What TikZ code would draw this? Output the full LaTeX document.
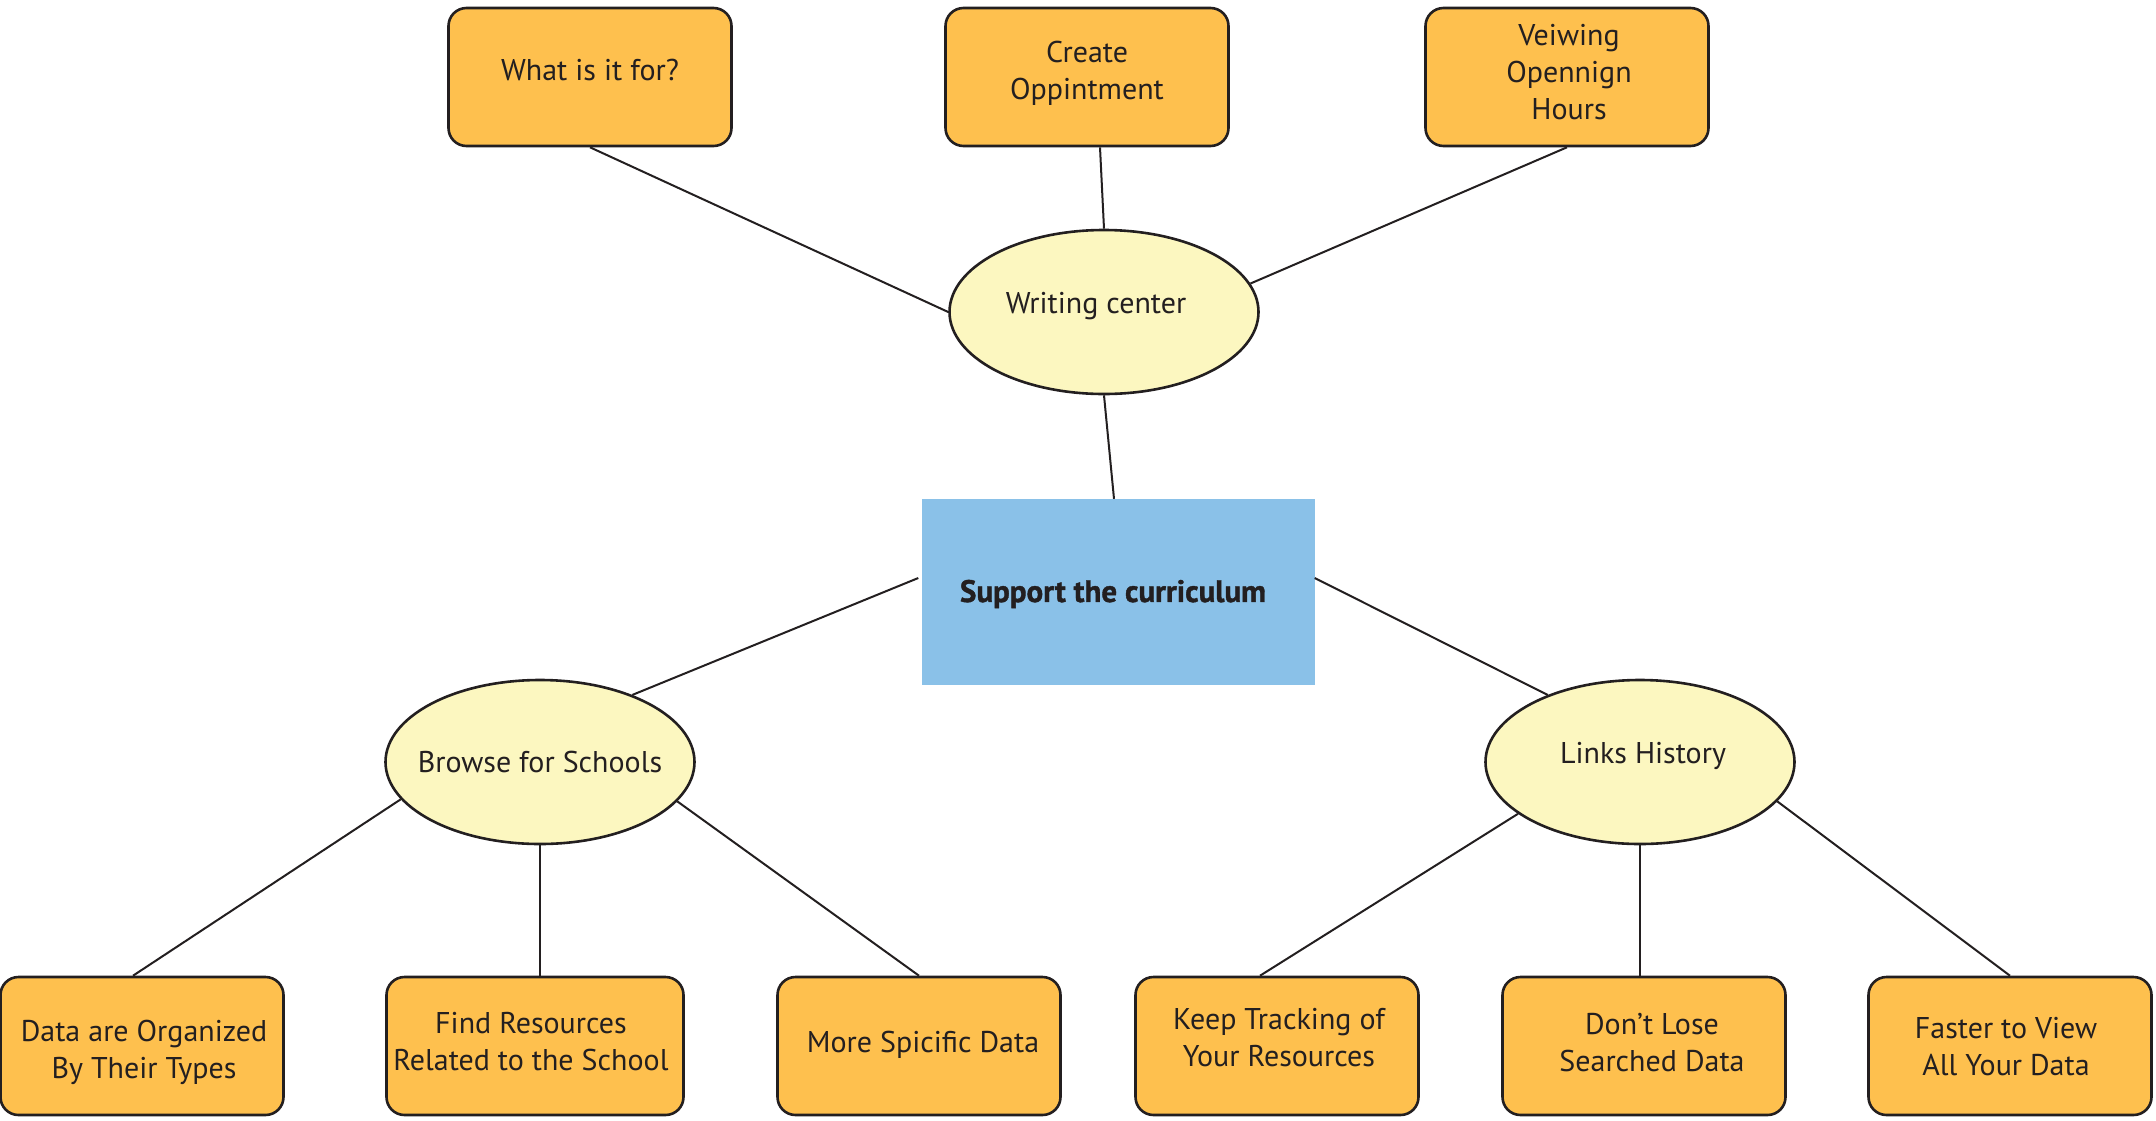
\documentclass[tikz,border=0pt]{standalone}
\usepackage{fontspec}
\setmainfont{PT Sans}
\newfontfamily\heavyfont[FakeBold=1.2]{PT Sans Bold}
\usetikzlibrary{shapes.geometric,calc}
\definecolor{ink}{HTML}{231F20}
\definecolor{boxfill}{HTML}{FEC04E}
\definecolor{bubblefill}{HTML}{FCF7C0}
\definecolor{corefill}{HTML}{8AC1E8}
\tikzset{
  leafbox/.style={draw=ink, line width=2.6pt, fill=boxfill, rounded corners=18pt,
    minimum width=283pt, minimum height=138pt, inner sep=0pt},
  bubble/.style={ellipse, draw=ink, line width=2.6pt, fill=bubblefill,
    minimum width=309pt, minimum height=164pt, inner sep=0pt},
  corebox/.style={rectangle, fill=corefill, minimum width=393pt, minimum height=186pt,
    inner sep=0pt},
  tag/.style={inner sep=0pt, align=center, text=ink, font=\fontsize{30}{37}\selectfont},
  coretag/.style={inner sep=0pt, text=ink, font=\fontsize{31}{37}\heavyfont},
  link/.style={draw=ink, line width=2pt}
}
\begin{document}
\begin{tikzpicture}[x=1pt, y=-1pt]
\useasboundingbox (0,0) rectangle (2156,1120);

% top row
\node[leafbox] (q1) at (590,77) {};
\node[leafbox] (q2) at (1087,77) {};
\node[leafbox] (q3) at (1567,77) {};

% hub
\node[bubble] (wc) at (1104,312) {};
\node[corebox] (sup) at (1118,592) {};

% second level
\node[bubble] (browse) at (540,762) {};
\node[bubble] (links) at (1640,762) {};

% bottom row
\node[leafbox] (b1) at (142,1046) {};
\node[leafbox, minimum width=297pt] (b2) at (535,1046) {};
\node[leafbox] (b3) at (919,1046) {};
\node[leafbox] (b4) at (1277,1046) {};
\node[leafbox] (b5) at (1644,1046) {};
\node[leafbox] (b6) at (2010,1046) {};

% texts
\node[tag] (q1t) at ($(q1)+(0,-7)$) {What is it for?};
\node[tag] (q2t) at ($(q2)+(0,-4)$) {Create\\Oppintment};
\node[tag] (q3t) at ($(q3)+(2,-5)$) {Veiwing\\Opennign\\Hours};
\node[tag] (wct) at ($(wc)+(-8,-6)$) {Writing center};
\node[coretag] (supt) at ($(sup)+(-5,2)$) {Support the curriculum};
\node[tag] (browset) at (browse) {Browse for Schools};
\node[tag] (linkst) at ($(links)+(3,-6)$) {Links History};
\node[tag] (b1t) at ($(b1)+(2,6)$) {Data are Organized\\By Their Types};
\node[tag] (b2t) at ($(b2)+(-4,-4)$) {Find Resources\\Related to the School};
\node[tag] (b3t) at ($(b3)+(4,-1)$) {More Spicific Data};
\node[tag] (b4t) at ($(b4)+(2,-8)$) {Keep Tracking of\\Your Resources};
\node[tag] (b5t) at ($(b5)+(8,-3)$) {Don’t Lose\\Searched Data};
\node[tag] (b6t) at ($(b6)+(-4,1)$) {Faster to View\\All Your Data};

% connectors
\draw[link] (q1.south) -- (wc.180);
\draw[link] ($(q2.south)+(13,0)$) -- (wc.north);
\draw[link] (q3.south) -- (wc.11.8);
\draw[link] (wc.south) -- ($(sup.north)+(-4,0)$);
\draw[link] ($(sup.west)+(-3,-14)$) -- (browse.36);
\draw[link] ($(sup.east)+(0,-14)$) -- (links.144);
\draw[link] (browse.195.4) -- ($(b1.north)+(-9,0)$);
\draw[link] (browse.south) -- (browse.south |- b2.north);
\draw[link] (browse.344.8) -- (b3.north);
\draw[link] (links.203.7) -- ($(b4.north)+(-17,0)$);
\draw[link] (links.south) -- (links.south |- b5.north);
\draw[link] (links.344.6) -- (b6.north);
\end{tikzpicture}
\end{document}
